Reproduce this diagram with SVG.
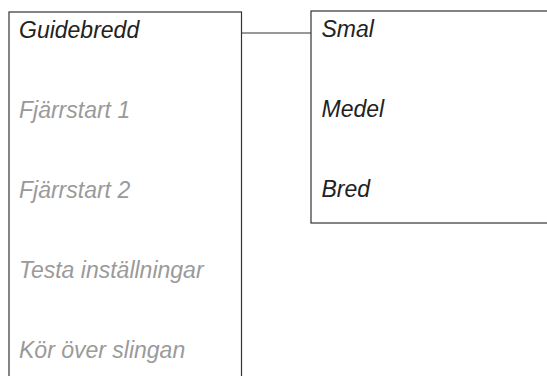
<svg xmlns="http://www.w3.org/2000/svg" width="547" height="376" viewBox="0 0 547 376">
<style>
.box{fill:#ffffff;stroke:#333333;stroke-width:1.2}
.t{font-family:"Liberation Sans",Arial,sans-serif;font-style:italic;font-size:23px}
.on{fill:#222222}
.off{fill:#9a9a9a}
.conn{stroke:#333333;stroke-width:1.2;fill:none}
</style>
<g id="connectors">
<line class="conn" x1="241.5" y1="33" x2="311" y2="33"/>
</g>
<g id="menu">
<rect class="box" x="9" y="12" width="232.5" height="380"/>
<text class="t on" x="19" y="38">Guidebredd</text>
<text class="t off" x="19" y="118">Fjärrstart 1</text>
<text class="t off" x="19" y="198">Fjärrstart 2</text>
<text class="t off" x="19" y="278">Testa inställningar</text>
<text class="t off" x="19" y="358">Kör över slingan</text>
</g>
<g id="submenu">
<rect class="box" x="311" y="11" width="260" height="212"/>
<text class="t on" x="321.5" y="37">Smal</text>
<text class="t on" x="321.5" y="117">Medel</text>
<text class="t on" x="321.5" y="197">Bred</text>
</g>
</svg>
